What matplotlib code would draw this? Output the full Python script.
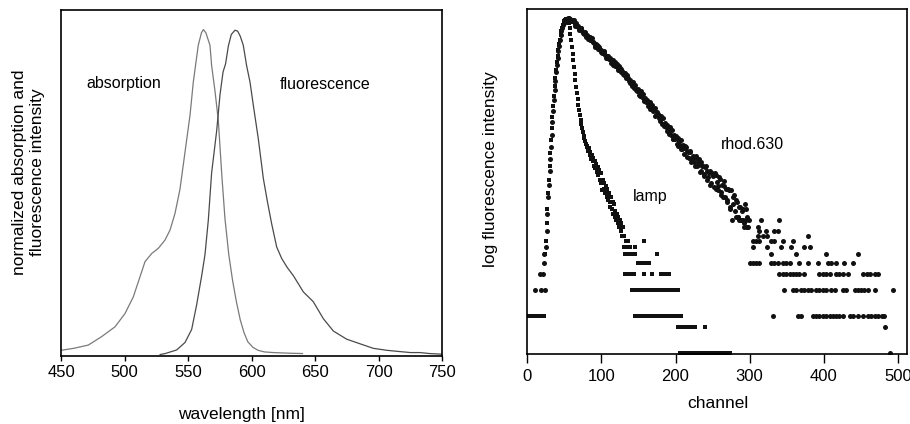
import numpy as np
import matplotlib
matplotlib.use("Agg")
import matplotlib.pyplot as plt

plt.rcParams["font.family"] = ["Liberation Sans", "DejaVu Sans"]

# ── left panel: normalized spectra ────────────────────
abs_wl = [450, 460, 471.5, 482, 492.5, 500.4, 506.9, 512.2, 516.1, 521.4,
          526.6, 531.8, 535.8, 539.7, 543.6, 547.6, 551.5, 554.1, 558, 560.5,
          562, 564, 567.2, 568.5, 571.2, 573.8, 576.4, 579, 582, 585,
          588, 591, 594, 597, 601, 605, 610, 617, 630, 640]
abs_val = [0.016, 0.022, 0.032, 0.058, 0.088, 0.129, 0.180, 0.242, 0.288, 0.313,
           0.329, 0.354, 0.385, 0.436, 0.51, 0.625, 0.737, 0.839, 0.952, 0.99,
           1.0, 0.99, 0.952, 0.89, 0.81, 0.72, 0.56, 0.42, 0.31, 0.23,
           0.165, 0.11, 0.07, 0.042, 0.025, 0.016, 0.011, 0.009, 0.007, 0.006]

fl_wl = [528, 532, 541, 547.6, 552.8, 556.7, 560.7, 563.3, 565.9, 568.5,
         572.5, 575.1, 577.5, 579.5, 581.7, 584, 586.9, 589, 591, 593.4,
         596, 598.7, 601.3, 605.2, 609.2, 612.5, 615.7, 619.7, 623.6, 628,
         632.8, 640.7, 648.5, 656.4, 664.3, 674.8, 685.2, 695.7, 706.2, 716.7,
         725, 732.4, 740, 750]
fl_val = [0.003, 0.006, 0.017, 0.04, 0.08, 0.155, 0.245, 0.31, 0.415, 0.56,
          0.69, 0.80, 0.87, 0.895, 0.95, 0.985, 0.998, 0.995, 0.98, 0.952,
          0.89, 0.839, 0.768, 0.666, 0.543, 0.47, 0.405, 0.333, 0.298, 0.27,
          0.245, 0.195, 0.165, 0.113, 0.075, 0.05, 0.036, 0.022, 0.016, 0.012,
          0.009, 0.009, 0.006, 0.004]

wl_ticks = [450, 500, 550, 600, 650, 700, 750]

# ── right panel: decay curves (counts per channel) ────
# lamp, every channel 24..130
lamp_ch = np.arange(24, 131)
lamp_counts = [5, 7, 11, 16, 24, 34, 48, 68, 94, 128,
               172, 228, 296, 378, 470, 580, 700, 830, 970, 1110,
               1260, 1420, 1570, 1720, 1850, 1960, 2040, 2100, 2140, 2160,
               2130, 2060, 1950, 1720, 1460, 1240, 1040, 870, 735, 615,
               520, 440, 372, 318, 272, 236, 206, 182, 160, 143,
               128, 116, 106, 99, 92, 86, 81, 80, 71, 76,
               65, 70, 58, 64, 55, 60, 49, 55, 46, 51,
               41, 47, 38, 44, 34, 40, 31, 26, 34, 27,
               31, 24, 29, 22, 27, 20, 24, 19, 17, 22,
               16, 19, 14, 18, 13, 15, 12, 14, 11, 13,
               10, 12, 9, 11, 8, 10, 8]

# lamp low-count tail: count level -> channels
lamp_tail = {
    7: [133, 136, 157],
    6: [131, 134, 139, 145],
    5: [132, 135, 138, 142, 146, 175],
    4: [150, 153, 156, 159, 162, 164],
    3: [132, 135, 138, 141, 144, 157, 168, 180, 183, 186, 189, 191],
    2: [141, 145, 150, 153, 156, 159, 162, 165, 168, 171, 174, 177, 180,
        183, 186, 189, 193, 196, 199, 202, 204],
    1: [0, 2, 4, 6, 8, 10, 12, 14, 16, 18, 20, 22,
        146, 148, 150, 152, 154, 156, 158, 160, 162, 164, 166, 168, 170,
        172, 174, 176, 178, 180, 182, 184, 186, 188, 190, 192, 194, 196,
        198, 200, 202, 204, 206, 208],
    0.77: [204, 207, 210, 213, 216, 219, 222, 226, 240],
    0.39: [206, 208, 210, 212, 214, 216, 218, 220, 222, 224, 226, 228,
           230, 232, 234, 236, 238, 240, 242, 244, 246, 248, 250, 252,
           254, 256, 258, 260, 262, 264, 266, 268, 270, 272, 274],
}

# rhodamine 630: rise (explicit channels), decay (even and odd channels 52..299)
rhod_rise_ch = [10, 17, 19, 21, 22, 23, 24,
                25, 26, 27, 28, 29, 30, 31, 32, 33, 34, 35, 36, 37, 38,
                39, 40, 41, 42, 43, 44, 45, 46, 47, 48, 49, 50, 51]
rhod_rise_counts = [2, 3, 2, 3, 4, 5, 2,
                    6, 9, 14, 22, 30, 42, 58, 80, 108, 150, 200, 265, 340, 430,
                    540, 660, 790, 930, 1080, 1240, 1400, 1560, 1720, 1850,
                    1950, 2020, 2080]

rhod_ch_even = np.arange(52, 300, 2)
rhod_counts_even = [2080, 2030, 2220, 2140, 2010, 2060, 1880, 1930, 1750, 1620,
                    1690, 1590, 1460, 1550, 1380, 1280, 1330, 1300, 1170, 1150,
                    1050, 1100, 1080, 965, 910, 920, 920, 790, 830, 770,
                    780, 700, 655, 705, 650, 610, 635, 550, 560, 500,
                    530, 475, 470, 410, 425, 418, 365, 363, 337, 354,
                    294, 308, 308, 267, 250, 261, 242, 211, 232, 205,
                    215, 178, 185, 168, 177, 143, 143, 147, 120, 131,
                    131, 107, 97, 109, 100, 86, 100, 83, 75, 84,
                    66, 78, 71, 59, 71, 56, 59, 48, 59, 50,
                    58, 43, 48, 37, 47, 42, 36, 43, 31, 37,
                    28, 38, 32, 26, 35, 25, 22, 29, 27, 20,
                    26, 16, 12, 22, 15, 20, 13, 17, 12, 15,
                    11, 18, 13, 10]

rhod_ch_odd = np.arange(53, 300, 2)
rhod_counts_odd = [2000, 2220, 2110, 2020, 2090, 2070, 1780, 1800, 1790, 1640,
                   1690, 1490, 1510, 1350, 1430, 1350, 1240, 1300, 1170, 1070,
                   1120, 980, 1050, 975, 890, 945, 840, 785, 825, 765,
                   693, 738, 690, 638, 677, 579, 598, 590, 516, 528,
                   466, 501, 438, 444, 379, 401, 393, 341, 342, 304,
                   334, 283, 259, 282, 262, 230, 255, 226, 199, 212,
                   177, 197, 179, 153, 166, 165, 134, 132, 139, 110,
                   123, 122, 96, 97, 105, 82, 92, 95, 75, 76,
                   82, 61, 70, 70, 54, 63, 54, 63, 48, 53,
                   41, 53, 49, 39, 49, 34, 40, 30, 40, 38,
                   40, 27, 29, 36, 23, 30, 33, 22, 19, 27,
                   17, 26, 18, 23, 13, 19, 13, 17, 12, 16,
                   10, 16, 10, 12]

rhod_tail = {
    12: [286, 291, 295, 315, 340],
    10: [297, 312],
    9: [313, 322, 333, 338],
    8: [311, 318, 324, 379],
    7: [304, 309, 313, 329, 333, 345, 358],
    6: [304, 324, 342, 356, 374, 381],
    5: [329, 363, 403, 446],
    4: [300, 304, 309, 313, 329, 333, 338, 345, 349, 354, 367, 379, 392,
        406, 410, 417, 428, 440],
    3: [340, 345, 349, 354, 358, 363, 367, 374, 394, 399, 403, 408, 417,
        421, 426, 433, 453, 458, 462, 469, 473],
    2: [347, 358, 363, 370, 374, 379, 383, 390, 394, 399, 403, 410, 415,
        426, 430, 442, 446, 451, 455, 460, 469, 494],
    1: [331, 365, 369, 385, 390, 394, 399, 403, 408, 412, 417, 421, 426,
        435, 440, 446, 453, 460, 464, 469, 473, 478, 482],
    0.77: [483],
    0.39: [489],
}

ch_ticks = [0, 100, 200, 300, 400, 500]

# ── figure ───────────────────────────────────────────
W, H = 910, 424
fig = plt.figure(figsize=(W / 100, H / 100), dpi=100)
fig.patch.set_facecolor("white")

axL = fig.add_axes([61 / W, (H - 355.5) / H, 381.3 / W, 345.5 / H])
axR = fig.add_axes([527.3 / W, (H - 354.3) / H, 379.4 / W, 345 / H])

for ax in (axL, axR):
    for sp in ax.spines.values():
        sp.set_linewidth(1.2)
        sp.set_color("black")
    ax.set_yticks([])
    ax.tick_params(axis="x", direction="out", labelsize=12, width=1.0,
                   colors="black")

# left
axL.plot(abs_wl, abs_val, color="#7a7a7a", lw=0.9)
axL.plot(fl_wl, fl_val, color="#4a4a4a", lw=0.9)
axL.set_xlim(450, 750)
axL.set_ylim(0, 1.06)
axL.set_xticks(wl_ticks)
axL.tick_params(axis="x", length=3.5, pad=3)
axL.text(0.165, 0.786, "absorption", transform=axL.transAxes,
         ha="center", va="center", fontsize=11.5)
axL.text(0.693, 0.783, "fluorescence", transform=axL.transAxes,
         ha="center", va="center", fontsize=11.5)
axL.text(0.474, -0.172, "wavelength [nm]", transform=axL.transAxes,
         ha="center", va="center", fontsize=12.5)
axL.text(-0.085, 0.531, "normalized absorption and\nfluorescence intensity",
         transform=axL.transAxes, ha="center", va="center", rotation=90,
         fontsize=12.5, linespacing=1.25)

# right
mk = dict(linestyle="none", color="#111111", markeredgewidth=0)
axR.plot(lamp_ch, lamp_counts, "s", ms=3.0, **mk)
for lvl, chs in lamp_tail.items():
    axR.plot(chs, [lvl] * len(chs), "s", ms=3.0, **mk)
axR.plot(rhod_rise_ch, rhod_rise_counts, "o", ms=3.6, **mk)
axR.plot(rhod_ch_even, rhod_counts_even, "o", ms=3.6, **mk)
axR.plot(rhod_ch_odd, rhod_counts_odd, "o", ms=3.6, **mk)
for lvl, chs in rhod_tail.items():
    axR.plot(chs, [lvl] * len(chs), "o", ms=3.6, **mk)

axR.set_yscale("log")
axR.set_ylim(0.377, 2750)
axR.set_xlim(0, 512)
axR.set_xticks(ch_ticks)
axR.minorticks_off()
axR.set_yticks([])
axR.tick_params(axis="x", length=6.5, pad=4)
axR.text(0.594, 0.607, "rhod.630", transform=axR.transAxes,
         ha="center", va="center", fontsize=11.5)
axR.text(0.323, 0.456, "lamp", transform=axR.transAxes,
         ha="center", va="center", fontsize=11.5)
axR.text(0.503, -0.144, "channel", transform=axR.transAxes,
         ha="center", va="center", fontsize=12.5)
axR.text(-0.098, 0.537, "log fluorescence intensity", transform=axR.transAxes,
         ha="center", va="center", rotation=90, fontsize=12.5)

fig.savefig("out.png", dpi=100)
